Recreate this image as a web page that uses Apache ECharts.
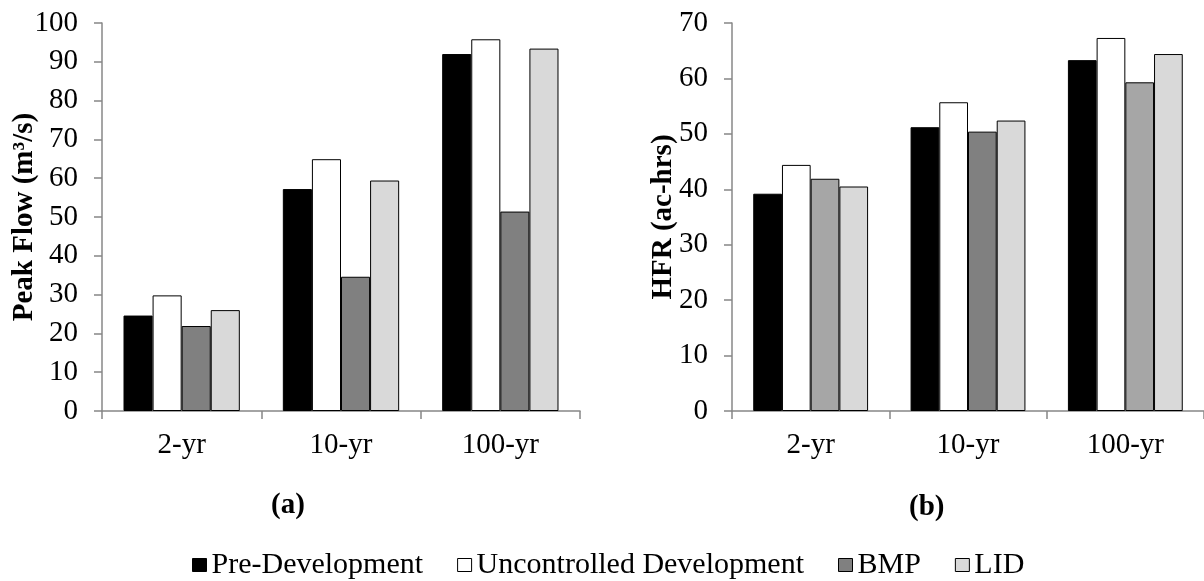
<!DOCTYPE html>
<html>
<head>
<meta charset="utf-8">
<title>Peak Flow and HFR by storm event</title>
<script src="https://cdn.jsdelivr.net/npm/echarts@6/dist/echarts.min.js"></script>
<style>
  html, body { margin: 0; padding: 0; background: #ffffff; }
  #chart { width: 1204px; height: 581px; }
</style>
</head>
<body>
<div id="chart"></div>
<script>
// Storm return periods shared by both panels
const stormEvents = ['2-yr', '10-yr', '100-yr'];
const scenarioNames = ['Pre-Development', 'Uncontrolled Development', 'BMP', 'LID'];

// Panel (a): peak flow, m³/s
const peakPre = [24.6, 57.2, 92.0];
const peakUncontrolled = [29.8, 64.9, 95.8];
const peakBmp = [21.9, 34.6, 51.4];
const peakLid = [26.0, 59.4, 93.4];

// Panel (b): HFR, ac-hrs
const hfrPre = [39.2, 51.2, 63.3];
const hfrUncontrolled = [44.4, 55.7, 67.3];
const hfrBmp = [41.9, 50.4, 59.3];
const hfrLid = [40.5, 52.4, 64.4];

// Axis tick labels
const peakTicks = [0, 10, 20, 30, 40, 50, 60, 70, 80, 90, 100];
const hfrTicks = [0, 10, 20, 30, 40, 50, 60, 70];

const FONT = "'Liberation Serif', 'Times New Roman', serif";
const AXIS_GRAY = '#878787';
const fills = ['#000000', '#ffffff', '#808080', '#d9d9d9'];

const chart = echarts.init(document.getElementById('chart'), null, { renderer: 'canvas' });

function xAxisFor(gridIndex) {
  return {
    type: 'category',
    gridIndex: gridIndex,
    data: stormEvents,
    axisLine: { show: true, lineStyle: { color: AXIS_GRAY, width: 1.5 } },
    axisTick: { show: true, length: 8, lineStyle: { color: AXIS_GRAY, width: 1.5 } },
    axisLabel: { color: '#000', fontFamily: FONT, fontSize: 29, margin: 20 },
    splitLine: { show: false }
  };
}

function yAxisFor(gridIndex, name, ticks, nameGap) {
  const step = ticks[1] - ticks[0];
  return {
    type: 'value',
    gridIndex: gridIndex,
    min: ticks[0],
    max: ticks[ticks.length - 1],
    interval: step,
    name: name,
    nameLocation: 'middle',
    nameGap: nameGap,
    nameMoveOverlap: false,
    nameTextStyle: { color: '#000', fontFamily: FONT, fontSize: 29, fontWeight: 'bold' },
    axisLine: { show: true, lineStyle: { color: AXIS_GRAY, width: 1.5 } },
    axisTick: { show: true, length: 8, lineStyle: { color: AXIS_GRAY, width: 1.5 } },
    axisLabel: { color: '#000', fontFamily: FONT, fontSize: 29, margin: 24 },
    splitLine: { show: false }
  };
}

function barSeries(name, values, idx, axisIndex, shades) {
  return {
    name: name,
    type: 'bar',
    xAxisIndex: axisIndex,
    yAxisIndex: axisIndex,
    barGap: '0%',
    barCategoryGap: '27%',
    itemStyle: { color: fills[idx], borderColor: '#000', borderWidth: 1 },
    data: values.map(function (v, i) {
      if (shades && shades[i]) {
        return { value: v, itemStyle: { color: shades[i] } };
      }
      return v;
    }),
    emphasis: { disabled: true }
  };
}

// In panel (b) the 2-yr and 100-yr BMP bars use a lighter grey
const hfrBmpShades = ['#a6a6a6', null, '#a6a6a6'];

const option = {
  backgroundColor: '#ffffff',
  animation: false,
  grid: [
    { left: 102, top: 23, width: 478, height: 388, containLabel: false },
    { left: 732, top: 23, width: 476, height: 388, containLabel: false }
  ],
  xAxis: [xAxisFor(0), xAxisFor(1)],
  yAxis: [
    yAxisFor(0, 'Peak Flow (m³/s)', peakTicks, 63),
    yAxisFor(1, 'HFR (ac-hrs)', hfrTicks, 54)
  ],
  legend: {
    data: scenarioNames,
    left: 187,
    top: 545,
    icon: 'rect',
    itemWidth: 14,
    itemHeight: 13,
    itemGap: 34,
    selectedMode: false,
    textStyle: { color: '#000', fontFamily: FONT, fontSize: 30 },
    itemStyle: { borderColor: '#000', borderWidth: 1 }
  },
  graphic: [
    { type: 'text', left: 271, top: 491,
      style: { text: '(a)', fill: '#000', font: 'bold 29px ' + FONT } },
    { type: 'text', left: 909, top: 493,
      style: { text: '(b)', fill: '#000', font: 'bold 29px ' + FONT } }
  ],
  series: [
    barSeries(scenarioNames[0], peakPre, 0, 0),
    barSeries(scenarioNames[1], peakUncontrolled, 1, 0),
    barSeries(scenarioNames[2], peakBmp, 2, 0),
    barSeries(scenarioNames[3], peakLid, 3, 0),
    barSeries(scenarioNames[0], hfrPre, 0, 1),
    barSeries(scenarioNames[1], hfrUncontrolled, 1, 1),
    barSeries(scenarioNames[2], hfrBmp, 2, 1, hfrBmpShades),
    barSeries(scenarioNames[3], hfrLid, 3, 1)
  ]
};

chart.setOption(option);
</script>
</body>
</html>
